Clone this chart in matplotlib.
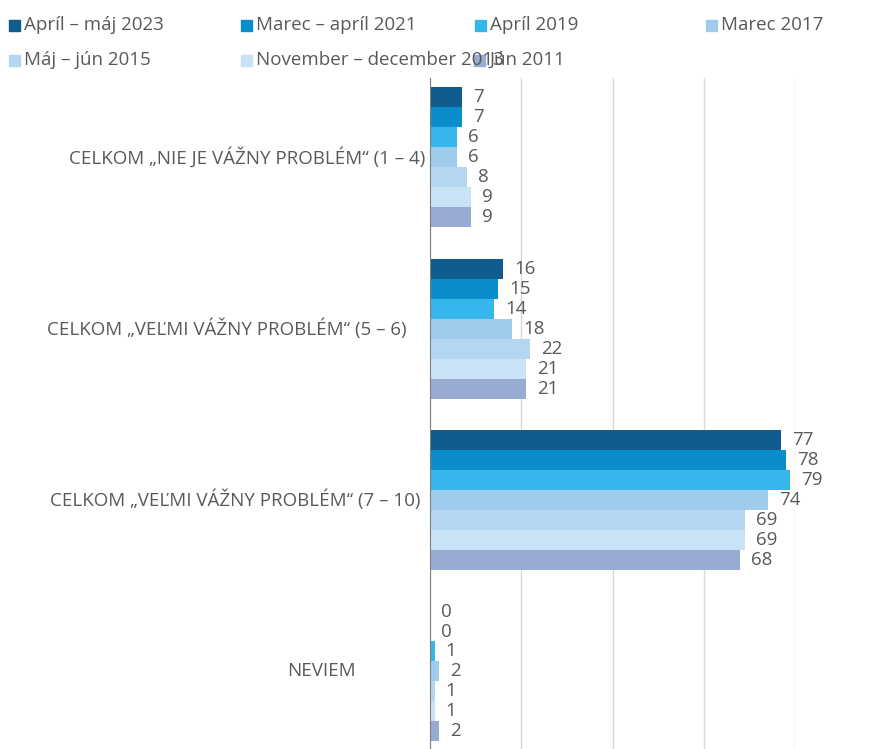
import matplotlib.pyplot as plt
import numpy as np

plt.rcParams['font.family'] = ['Open Sans', 'DejaVu Sans']

categories = ['CELKOM „NIE JE VÁŽNY PROBLÉM“ (1 – 4)',
              'CELKOM „VEĽMI VÁŽNY PROBLÉM“ (5 – 6)',
              'CELKOM „VEĽMI VÁŽNY PROBLÉM“ (7 – 10)',
              'NEVIEM']
series = ['Apríl – máj 2023', 'Marec – apríl 2021', 'Apríl 2019', 'Marec 2017',
          'Máj – jún 2015', 'November – december 2013', 'Jún 2011']
values = [
    [7, 16, 77, 0],
    [7, 15, 78, 0],
    [6, 14, 79, 1],
    [6, 18, 74, 2],
    [8, 22, 69, 1],
    [9, 21, 69, 1],
    [9, 21, 68, 2],
]
colors = ['#0E5D8E', '#0A8ECB', '#36B7EC', '#9FCCEC', '#B3D7F1', '#C8E3F5', '#97ABD3']

W, H = 883, 749
FS = 13.5
TXT = '#595959'
fig = plt.figure(figsize=(W / 100, H / 100), dpi=100)
ax = fig.add_axes([430 / W, 0, 365 / W, (H - 78) / H])

bh = 0.1166
y = np.arange(len(categories))
for j, (name, vals, c) in enumerate(zip(series, values, colors)):
    pos = y + (j - 3) * bh
    ax.barh(pos, vals, height=bh, color=c, zorder=3)
    for p, v in zip(pos, vals):
        ax.annotate(str(v), (v, p), xytext=(8, 0), textcoords='offset points',
                    va='center', ha='left', fontsize=FS, color=TXT,
                    annotation_clip=False)

ax.set_xlim(0, 80)
ax.set_ylim(3.452, -0.461)
ax.set_xticks([0, 20, 40, 60, 80])
ax.grid(axis='x', color='#D9D9D9', linewidth=1, zorder=0)
ax.tick_params(left=False, bottom=False, labelbottom=False, labelleft=False)
for s in ['top', 'right', 'bottom']:
    ax.spines[s].set_visible(False)
ax.spines['left'].set_color('#7F7F7F')
ax.spines['left'].set_zorder(4)

# category labels (right edges as in the reference)
label_right = [425, 407, 421, 356]
for i, (cat, xr) in enumerate(zip(categories, label_right)):
    ax.text((xr - 430) / 365, i, cat, transform=ax.get_yaxis_transform(),
            ha='right', va='center', fontsize=FS, color=TXT)

# legend laid out by hand, two rows
leg_x = [9, 241, 475, 706, 9, 241, 474]
leg_y = [25, 25, 25, 25, 60, 60, 60]
for name, c, lx, ly in zip(series, colors, leg_x, leg_y):
    fig.patches.append(plt.Rectangle((lx / W, 1 - (ly + 6) / H), 11 / W, 11 / H,
                                     transform=fig.transFigure, color=c))
    fig.text((lx + 15) / W, 1 - ly / H, name, ha='left', va='center',
             fontsize=FS, color=TXT)

fig.savefig('out.png', dpi=100)
